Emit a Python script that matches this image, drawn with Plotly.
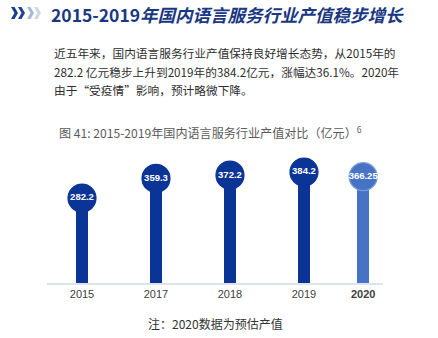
import plotly.graph_objects as go

# ---- data ----
years = ["2015", "2017", "2018", "2019", "2020"]
values = [282.2, 359.3, 372.2, 384.2, 366.25]
labels = ["282.2", "359.3", "372.2", "384.2", "366.25"]
x_slots = [0, 1, 2, 3, 3.8]          # layout slots (uneven spacing as in the source)

W, H = 438, 338
L, R, T, B = 47, 383, 140, 283        # plot area in pixels
BASE = -51                            # visual baseline value

def px(x):
    return (x - L) / (R - L)

def py(y):
    return (B - y) / (B - T)

dark = "#0b3497"
light = "#4673c6"
colors = [dark, dark, dark, dark, light]
border = [dark, dark, dark, dark, "#7e9edb"]

fig = go.Figure()
fig.add_trace(go.Bar(
    x=x_slots, y=[v - BASE for v in values], base=BASE,
    width=0.165, marker=dict(color=colors, line=dict(width=0)),
    hoverinfo="skip", showlegend=False,
))
fig.add_trace(go.Scatter(
    x=x_slots, y=values, mode="markers+text",
    marker=dict(size=28, color=colors, line=dict(color=border, width=1.2)),
    text=[f"<b>{t}</b>" for t in labels], textposition="middle center",
    textfont=dict(family="Liberation Sans, Arial", size=9.5, color="white"),
    hoverinfo="skip", showlegend=False,
))

ann = []
def add_text(xp, yp, text, size, color, anchor="left", family="Noto Sans CJK SC"):
    ann.append(dict(xref="paper", yref="paper", x=px(xp), y=py(yp), text=text,
                    showarrow=False, xanchor=anchor, yanchor="middle",
                    font=dict(family=family, size=size, color=color)))

add_text(49, 14, "<b>2015-2019<i>年国内语言服务行业产值稳步增长</i></b>", 17.5, "#1a3782")
add_text(52, 52.5, "近五年来，国内语言服务行业产值保持良好增长态势，从2015年的", 11.7, "#2e2e2e")
add_text(52, 71, "282.2 亿元稳步上升到2019年的384.2亿元，涨幅达36.1%。2020年", 11.7, "#2e2e2e")
add_text(52, 89, "由于“受疫情”影响，预计略微下降。", 11.7, "#2e2e2e")
add_text(57, 131.5, "图 41: 2015-2019年国内语言服务行业产值对比（亿元）<sup>6</sup>", 12.1, "#5a5a5a")
add_text(215, 323, "注：2020数据为预估产值", 12, "#333333", anchor="center")

# chevron icon
def chevron(x0, y0, w, h, t):
    xs = [x0, x0 + t, x0 + w, x0 + t, x0, x0 + w - t]
    ys = [y0, y0, y0 + h / 2, y0 + h, y0 + h, y0 + h / 2]
    pts = [(px(a), py(b)) for a, b in zip(xs, ys)]
    return "M " + " L ".join(f"{a},{b}" for a, b in pts) + " Z"

shapes = []
for x0, col in [(11, "#163e8e"), (18, "#1e4596"), (27, "#a9b9d6"), (34, "#cdd7e8")]:
    shapes.append(dict(type="path", xref="paper", yref="paper",
                       path=chevron(x0, 7, 7, 12, 3.5), fillcolor=col,
                       line=dict(width=0), layer="above"))

fig.update_layout(
    width=W, height=H,
    margin=dict(l=L, r=W - R, t=T, b=H - B),
    paper_bgcolor="white", plot_bgcolor="white",
    annotations=ann, shapes=shapes,
    xaxis=dict(range=[-0.473, 4.068], tickvals=x_slots,
               ticktext=years[:4] + ["<b>2020</b>"],
               showgrid=False, zeroline=False, showline=True,
               linecolor="#dde3ec", linewidth=1.5, ticks="",
               tickfont=dict(family="Liberation Sans, Arial", size=11, color="#404040"),
               fixedrange=True),
    yaxis=dict(range=[BASE, 510], visible=False, fixedrange=True),
    bargap=0,
)
fig.write_html("out.html")
